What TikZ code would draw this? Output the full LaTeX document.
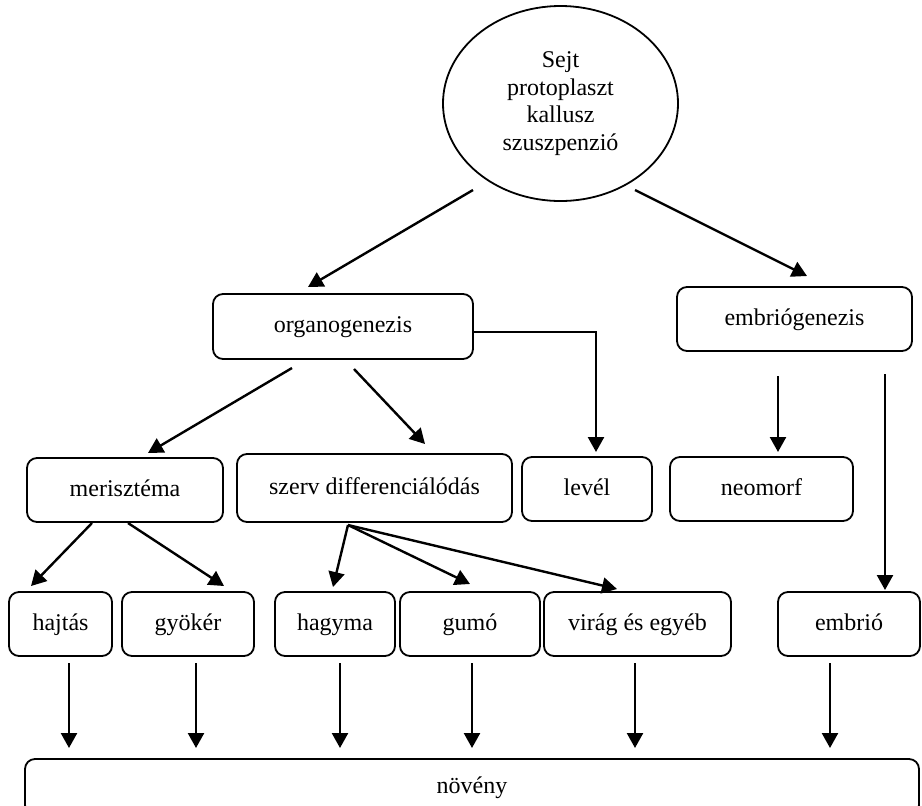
\documentclass[tikz,border=0pt]{standalone}
\usepackage{fontspec}
\setmainfont{Liberation Serif}
\usetikzlibrary{arrows.meta,shapes.geometric}
\tikzset{
  box/.style={draw, rounded corners=5pt, line width=0.9pt, inner sep=0pt,
    text height=8pt, text depth=2pt, align=center},
  arr/.style={line width=1.2pt, -{Triangle[length=7.5pt,width=8pt]}},
}
\begin{document}
\begin{tikzpicture}[x=0.5pt, y=-0.5pt, font=\fontsize{12}{13.8}\selectfont]
\useasboundingbox (0,0) rectangle (922,805);
\clip (0,0) rectangle (922,805);
\fill[white] (0,0) rectangle (922,805);

% nodes
\node[draw, ellipse, line width=0.9pt, minimum width=117.5pt, minimum height=97.5pt,
      inner sep=0pt, align=center] (src) at (560.5,103.5)
      {Sejt\\protoplaszt\\kallusz\\szuszpenzió};
\node[box, minimum width=130pt, minimum height=32.5pt] (org) at (343,326.5) {organogenezis};
\node[box, minimum width=117.5pt, minimum height=32pt] (emb) at (794.5,319) {embriógenezis};
\node[box, minimum width=98pt, minimum height=32pt] (meri) at (125,490) {merisztéma};
\node[box, minimum width=137.5pt, minimum height=34pt] (szerv) at (374.5,488) {szerv differenciálódás};
\node[box, minimum width=65pt, minimum height=32pt] (level) at (587,489) {levél};
\node[box, minimum width=91.5pt, minimum height=32pt] (neo) at (761.5,489) {neomorf};
\node[box, minimum width=51.5pt, minimum height=32pt] (hajtas) at (60.5,624) {hajtás};
\node[box, minimum width=66pt, minimum height=32pt] (gyoker) at (188,624) {gyökér};
\node[box, minimum width=60pt, minimum height=32pt] (hagyma) at (335,624) {hagyma};
\node[box, minimum width=70pt, minimum height=32pt] (gumo) at (470,624) {gumó};
\node[box, minimum width=93.5pt, minimum height=32pt] (virag) at (637.5,624) {virág és egyéb};
\node[box, minimum width=71pt, minimum height=32pt] (embrio) at (849,624) {embrió};
\node[box, minimum width=447pt, minimum height=28pt] (noveny) at (472,787) {növény};

% connector end points
\coordinate (a1s) at (473,190);  \coordinate (a1e) at (308,287);
\coordinate (a2s) at (635,190);  \coordinate (a2e) at (807,276);
\coordinate (a3s) at (292,368);  \coordinate (a3e) at (148,453);
\coordinate (a4s) at (354,369);  \coordinate (a4e) at (425,444);
\coordinate (a5s) at (473,332);  \coordinate (a5e) at (596,452);
\coordinate (a6s) at (778,376);  \coordinate (a6e) at (778,452);
\coordinate (a7s) at (885,374);  \coordinate (a7e) at (885,590);
\coordinate (a8s) at (92,523);   \coordinate (a8e) at (31,586);
\coordinate (a9s) at (128,523);  \coordinate (a9e) at (224,586);
\coordinate (sz) at (348,525);
\coordinate (a10e) at (333,587);
\coordinate (a11e) at (470,584);
\coordinate (a12e) at (617,589);

% connectors
\draw[arr] (a1s) -- (a1e);
\draw[arr] (a2s) -- (a2e);
\draw[arr] (a3s) -- (a3e);
\draw[arr] (a4s) -- (a4e);
\draw[arr] (a5s) -| (a5e);
\draw[arr] (a6s) -- (a6e);
\draw[arr] (a7s) -- (a7e);
\draw[arr] (a8s) -- (a8e);
\draw[arr] (a9s) -- (a9e);
\draw[arr] (sz) -- (a10e);
\draw[arr] (sz) -- (a11e);
\draw[arr] (sz) -- (a12e);

\foreach \n/\x in {hajtas/69, gyoker/196, hagyma/340, gumo/472, virag/635, embrio/830}{
  \draw[arr] (\x,663) -- (\x,748);
}
\end{tikzpicture}
\end{document}
